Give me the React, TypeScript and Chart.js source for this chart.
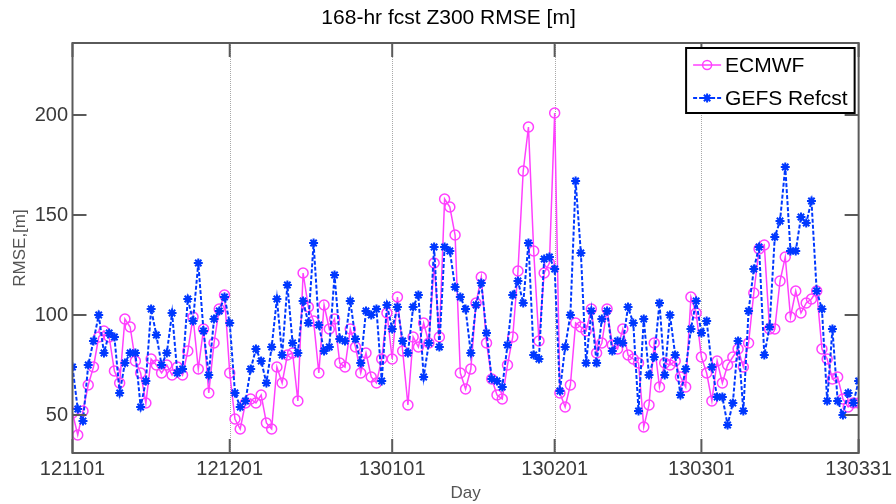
import React, { useEffect, useRef } from 'react';
import { Chart, registerables } from 'chart.js';

Chart.register(...registerables);

const TITLE = '168-hr fcst Z300 RMSE [m]';
const X_LABEL = 'Day';
const Y_LABEL = 'RMSE,[m]';
const SERIES_NAMES = ['ECMWF', 'GEFS Refcst'];
const X_TICK_DAYS = [0, 30, 61, 92, 120, 150];
const X_TICK_LABELS = ['121101', '121201', '130101', '130201', '130301', '130331'];
const Y_TICKS = [50, 100, 150, 200];
const Y_MIN = 31;
const Y_MAX = 236;
const X_MIN = 0;
const X_MAX = 150;

const ECMWF = [
  51, 40, 52, 65, 74, 89, 92, 89, 72, 66, 98, 94, 77, 71, 56, 78, 75, 71, 75, 70,
  74, 70, 82, 99, 73, 93, 61, 86, 103, 110, 71, 48, 43, 56, 58, 56, 60, 46, 43, 74,
  66, 80, 81, 57, 121, 104, 97, 71, 105, 93, 98, 76, 74, 93, 84, 71, 81, 69, 66, 78,
  101, 78, 109, 82, 55, 89, 84, 96, 86, 126, 89, 158, 154, 140, 71, 63, 73, 106, 119, 86,
  68, 60, 58, 75, 89, 122, 172, 194, 132, 87, 121, 126, 201, 61, 54, 65, 96, 94, 92, 103,
  81, 86, 103, 85, 83, 93, 80, 78, 76, 44, 55, 86, 64, 76, 75, 77, 69, 64, 109, 101,
  79, 71, 57, 77, 66, 75, 79, 83, 74, 86, 111, 133, 135, 93, 93, 117, 129, 99, 112, 101,
  106, 108, 112, 83, 78, 68, 69, 58, 54, 56, 56,
];

const GEFS = [
  74, 53, 47, 75, 87, 100, 81, 91, 89, 61, 76, 81, 81, 54, 67, 103, 90, 75, 81, 101,
  71, 73, 108, 97, 126, 92, 70, 98, 102, 109, 96, 61, 54, 57, 73, 83, 77, 66, 84, 108,
  80, 115, 86, 81, 107, 96, 136, 95, 82, 84, 120, 88, 87, 107, 88, 76, 102, 100, 103, 67,
  105, 93, 104, 87, 81, 104, 110, 69, 86, 134, 84, 134, 132, 114, 109, 103, 81, 105, 116, 91,
  68, 67, 64, 85, 110, 117, 106, 136, 80, 78, 128, 129, 123, 62, 84, 100, 167, 131, 76, 102,
  76, 98, 102, 82, 87, 86, 104, 96, 52, 98, 70, 79, 106, 70, 100, 80, 60, 73, 93, 107,
  91, 97, 74, 59, 59, 45, 56, 87, 52, 102, 123, 134, 80, 94, 139, 147, 174, 132, 132, 149,
  146, 157, 112, 103, 57, 93, 57, 50, 61, 56, 67,
];

const MAGENTA = '#ff40ff';
const BLUE = '#0038ff';
const FONT = '"Liberation Sans", Arial, Helvetica, sans-serif';

function drawStar(ctx: CanvasRenderingContext2D, x: number, y: number, r: number) {
  ctx.beginPath();
  for (let i = 0; i < 4; i++) {
    const a = (i * Math.PI) / 4;
    ctx.moveTo(x - r * Math.cos(a), y - r * Math.sin(a));
    ctx.lineTo(x + r * Math.cos(a), y + r * Math.sin(a));
  }
  ctx.stroke();
}

const decorPlugin = {
  id: 'decor',
  beforeDatasetsDraw(chart: any) {
    const { ctx, chartArea: a, scales } = chart;
    const xs = scales.x;
    ctx.save();
    ctx.strokeStyle = '#a8a8a8';
    ctx.lineWidth = 1;
    ctx.setLineDash([1, 1]);
    X_TICK_DAYS.slice(1, -1).forEach((v) => {
      const px = Math.round(xs.getPixelForValue(v)) + 0.5;
      ctx.beginPath();
      ctx.moveTo(px, a.top);
      ctx.lineTo(px, a.bottom);
      ctx.stroke();
    });
    ctx.restore();
  },
  afterDatasetsDraw(chart: any) {
    const { ctx, chartArea: a, scales } = chart;
    const xs = scales.x;
    const ys = scales.y;
    ctx.save();
    // axes box
    ctx.strokeStyle = '#5a5a5a';
    ctx.lineWidth = 2;
    ctx.setLineDash([]);
    ctx.strokeRect(a.left, a.top, a.right - a.left, a.bottom - a.top);
    // inward ticks
    const T = 14;
    ctx.beginPath();
    X_TICK_DAYS.forEach((v) => {
      const px = xs.getPixelForValue(v);
      ctx.moveTo(px, a.bottom);
      ctx.lineTo(px, a.bottom - T);
      ctx.moveTo(px, a.top);
      ctx.lineTo(px, a.top + T);
    });
    Y_TICKS.forEach((v) => {
      const py = ys.getPixelForValue(v);
      ctx.moveTo(a.left, py);
      ctx.lineTo(a.left + T, py);
      ctx.moveTo(a.right, py);
      ctx.lineTo(a.right - T, py);
    });
    ctx.stroke();

    // title
    ctx.fillStyle = '#000';
    ctx.font = `21px ${FONT}`;
    ctx.textAlign = 'center';
    ctx.textBaseline = 'middle';
    ctx.fillText(TITLE, (a.left + a.right) / 2 - 17, 18);

    // legend
    ctx.font = `21px ${FONT}`;
    const tw = Math.max(...SERIES_NAMES.map((s) => ctx.measureText(s).width));
    const bw = 39 + tw + 7;
    const bh = 65;
    const bx = a.right - 4 - bw;
    const by = a.top + 5;
    ctx.fillStyle = '#fff';
    ctx.fillRect(bx, by, bw, bh);
    ctx.strokeStyle = '#000';
    ctx.lineWidth = 2;
    ctx.strokeRect(bx, by, bw, bh);
    const rows = [by + 17, by + 50];
    const colors = [MAGENTA, BLUE];
    rows.forEach((ry, i) => {
      ctx.strokeStyle = colors[i];
      ctx.lineWidth = i === 0 ? 1.5 : 2;
      ctx.setLineDash(i === 0 ? [] : [4, 2]);
      ctx.beginPath();
      ctx.moveTo(bx + 7, ry);
      ctx.lineTo(bx + 35, ry);
      ctx.stroke();
      ctx.setLineDash([]);
      if (i === 0) {
        ctx.beginPath();
        ctx.arc(bx + 21, ry, 4.5, 0, Math.PI * 2);
        ctx.stroke();
      } else {
        drawStar(ctx, bx + 21, ry, 4.5);
      }
      ctx.fillStyle = '#000';
      ctx.textAlign = 'left';
      ctx.textBaseline = 'middle';
      ctx.fillText(SERIES_NAMES[i], bx + 39, ry + 1);
    });
    ctx.restore();
  },
};

export default function App() {
  const ref = useRef<HTMLCanvasElement>(null);
  useEffect(() => {
    if (!ref.current) return;
    const chart = new Chart(ref.current, {
      type: 'line',
      data: {
        datasets: [
          {
            label: SERIES_NAMES[0],
            data: ECMWF.map((y, i) => ({ x: i, y })),
            borderColor: MAGENTA,
            backgroundColor: 'transparent',
            borderWidth: 1.5,
            pointStyle: 'circle',
            pointRadius: 5,
            pointBorderWidth: 1.5,
            pointBorderColor: MAGENTA,
            pointBackgroundColor: 'transparent',
            tension: 0,
            order: 2,
          },
          {
            label: SERIES_NAMES[1],
            data: GEFS.map((y, i) => ({ x: i, y })),
            borderColor: BLUE,
            backgroundColor: 'transparent',
            borderWidth: 2,
            borderDash: [4, 2],
            pointStyle: 'star',
            pointRadius: 4.5,
            pointBorderWidth: 2,
            pointBorderColor: BLUE,
            pointBackgroundColor: BLUE,
            tension: 0,
            order: 1,
          },
        ],
      },
      options: {
        responsive: false,
        devicePixelRatio: 1,
        animation: false,
        layout: { padding: { top: 43, right: 36, left: 0, bottom: 0 } },
        plugins: {
          legend: { display: false },
          title: { display: false },
          tooltip: { enabled: false },
        },
        scales: {
          x: {
            type: 'linear',
            min: X_MIN,
            max: X_MAX,
            grid: { display: false, drawTicks: false },
            border: { display: false },
            afterBuildTicks: (s: any) => {
              s.ticks = X_TICK_DAYS.map((v) => ({ value: v }));
            },
            afterFit: (s: any) => {
              s.height = 51;
            },
            ticks: {
              autoSkip: false,
              maxRotation: 0,
              padding: 4,
              color: '#3a3a3a',
              font: { size: 20, family: FONT },
              callback: (v: any) => {
                const i = X_TICK_DAYS.indexOf(Number(v));
                return i >= 0 ? X_TICK_LABELS[i] : '';
              },
            },
            title: {
              display: true,
              text: X_LABEL,
              color: '#555',
              font: { size: 17, family: FONT },
              padding: { top: 0, bottom: 0 },
            },
          },
          y: {
            type: 'linear',
            min: Y_MIN,
            max: Y_MAX,
            grid: { display: false, drawTicks: false },
            border: { display: false },
            afterBuildTicks: (s: any) => {
              s.ticks = Y_TICKS.map((v) => ({ value: v }));
            },
            afterFit: (s: any) => {
              s.width = 72.5;
            },
            ticks: {
              padding: 4.5,
              color: '#3a3a3a',
              font: { size: 20, family: FONT },
            },
            title: {
              display: true,
              text: Y_LABEL,
              color: '#555',
              font: { size: 17, family: FONT },
              padding: { top: 10, bottom: 0 },
            },
          },
        },
      },
      plugins: [decorPlugin],
    });
    return () => chart.destroy();
  }, []);
  return (
    <div style={{ position: 'absolute', left: 0, top: 0, width: 896, height: 504 }}>
      <canvas ref={ref} width={896} height={504} />
    </div>
  );
}
